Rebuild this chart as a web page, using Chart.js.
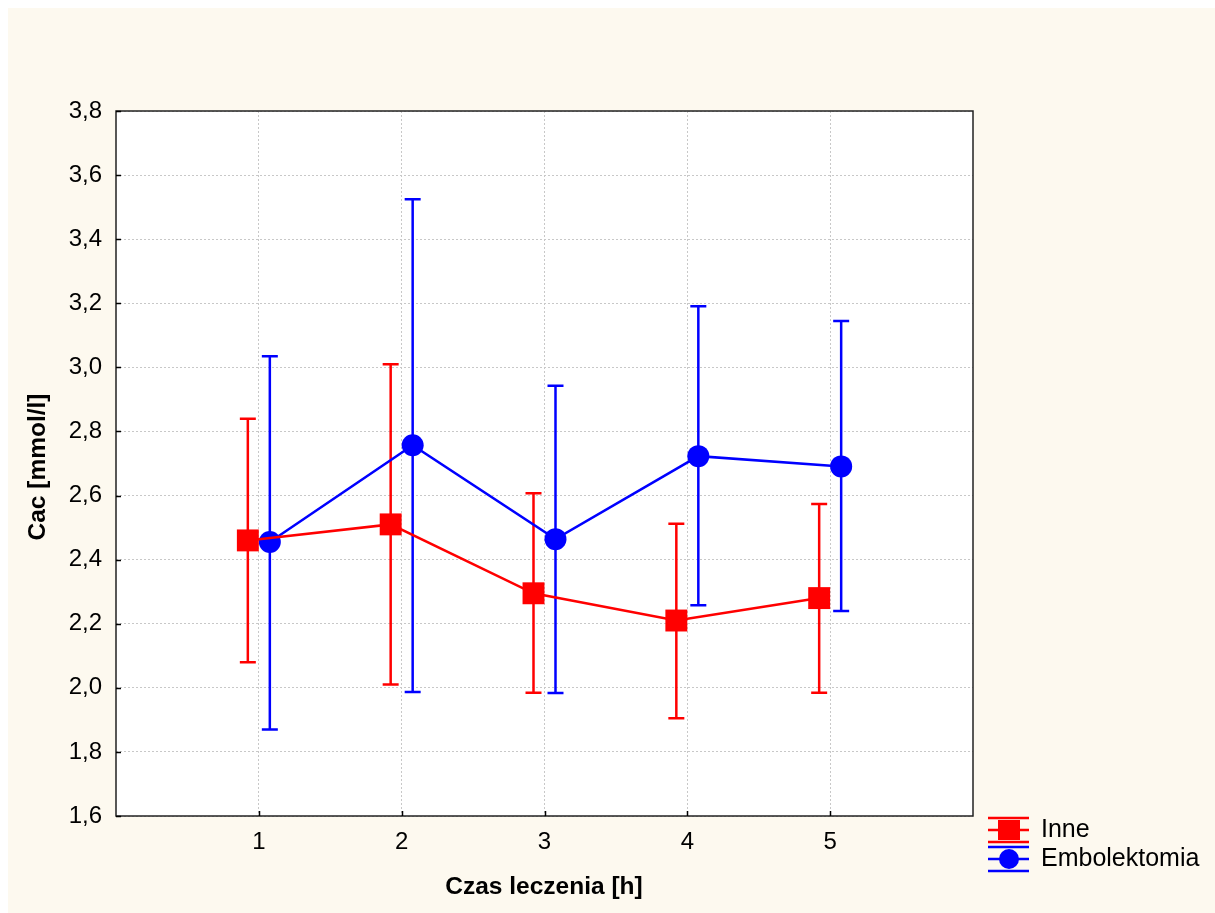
<!DOCTYPE html>
<html>
<head>
<meta charset="utf-8">
<script src="https://cdn.jsdelivr.net/npm/chart.js@4"></script>
<style>
  html, body { margin: 0; padding: 0; background: #ffffff; }
  canvas { display: block; }
</style>
</head>
<body>
<canvas id="chart" width="1215" height="913"></canvas>
<script>
// time points (h)
const hours = [1, 2, 3, 4, 5];
const yTicks = [1.6, 1.8, 2.0, 2.2, 2.4, 2.6, 2.8, 3.0, 3.2, 3.4, 3.6, 3.8];

// Inne
const inneMean = [2.46, 2.51, 2.295, 2.21, 2.28];
const inneLow  = [2.08, 2.01, 1.985, 1.905, 1.985];
const inneHigh = [2.84, 3.01, 2.607, 2.512, 2.574];

// Embolektomia
const embMean = [2.455, 2.757, 2.464, 2.723, 2.691];
const embLow  = [1.87, 1.987, 1.984, 2.258, 2.24];
const embHigh = [3.035, 3.525, 2.943, 3.191, 3.145];

const seriesNames = ['Inne', 'Embolektomia'];
const offset = 0.077; // the two groups are shifted a bit sideways

const RED = '#ff0000';
const BLUE = '#0000ff';
const FONT = '"Liberation Sans", Arial, sans-serif';

const pts = (means, dx) => hours.map((h, i) => ({ x: h + dx, y: means[i] }));

const errorBars = {
    id: 'errorBars',
    beforeDatasetsDraw(chart) {
        const { ctx, scales: { x, y } } = chart;
        const groups = [
            { low: inneLow, high: inneHigh, dx: -offset, color: RED },
            { low: embLow, high: embHigh, dx: offset, color: BLUE }
        ];
        ctx.save();
        ctx.lineWidth = 2.5;
        groups.forEach(g => {
            ctx.strokeStyle = g.color;
            hours.forEach((h, i) => {
                const px = x.getPixelForValue(h + g.dx);
                const yl = y.getPixelForValue(g.low[i]);
                const yh = y.getPixelForValue(g.high[i]);
                ctx.beginPath();
                ctx.moveTo(px, yl); ctx.lineTo(px, yh);
                ctx.moveTo(px - 8, yl); ctx.lineTo(px + 8, yl);
                ctx.moveTo(px - 8, yh); ctx.lineTo(px + 8, yh);
                ctx.stroke();
            });
        });
        ctx.restore();
    }
};

const decor = {
    id: 'decor',
    beforeDraw(chart) {
        const { ctx, width, height, chartArea: a } = chart;
        ctx.save();
        ctx.fillStyle = '#ffffff';
        ctx.fillRect(0, 0, width, height);
        ctx.fillStyle = '#fdf9ef';
        ctx.fillRect(8, 8, width - 8, height - 8);
        ctx.fillStyle = '#ffffff';
        ctx.fillRect(a.left, a.top, a.right - a.left, a.bottom - a.top);
        ctx.restore();
    },
    afterDraw(chart) {
        const { ctx, chartArea: a, scales: { x, y } } = chart;
        ctx.save();
        // frame
        ctx.strokeStyle = '#222222';
        ctx.lineWidth = 1.5;
        ctx.strokeRect(a.left, a.top, a.right - a.left, a.bottom - a.top);
        // inward tick marks
        ctx.strokeStyle = '#000000';
        ctx.lineWidth = 1.5;
        ctx.beginPath();
        yTicks.forEach(v => {
            const py = Math.round(y.getPixelForValue(v)) + 0.5;
            ctx.moveTo(a.left, py); ctx.lineTo(a.left + 5, py);
        });
        hours.forEach(h => {
            const px = Math.round(x.getPixelForValue(h)) + 0.5;
            ctx.moveTo(px, a.bottom); ctx.lineTo(px, a.bottom - 5);
        });
        ctx.stroke();

        // axis titles
        ctx.fillStyle = '#000000';
        ctx.font = 'bold 24.5px ' + FONT;
        ctx.textAlign = 'center';
        ctx.textBaseline = 'middle';
        ctx.fillText('Czas leczenia [h]', 544, 887);
        ctx.save();
        ctx.translate(38, 467);
        ctx.rotate(-Math.PI / 2);
        ctx.fillText('Cac [mmol/l]', 0, 0);
        ctx.restore();

        // legend
        const items = [
            { name: seriesNames[0], color: RED, shape: 'rect', cy: 830 },
            { name: seriesNames[1], color: BLUE, shape: 'circle', cy: 859 }
        ];
        items.forEach(it => {
            ctx.strokeStyle = it.color;
            ctx.fillStyle = it.color;
            ctx.lineWidth = 2.5;
            ctx.beginPath();
            [-12, 0, 12].forEach(d => {
                ctx.moveTo(988, it.cy + d); ctx.lineTo(1029, it.cy + d);
            });
            ctx.stroke();
            if (it.shape === 'rect') {
                ctx.fillRect(998, it.cy - 10, 22, 20);
            } else {
                ctx.beginPath();
                ctx.arc(1009, it.cy, 10, 0, Math.PI * 2);
                ctx.fill();
            }
            ctx.fillStyle = '#000000';
            ctx.font = '25px ' + FONT;
            ctx.textAlign = 'left';
            ctx.fillText(it.name, 1041, it.cy);
        });
        ctx.restore();
    }
};

new Chart(document.getElementById('chart'), {
    type: 'line',
    data: {
        datasets: [
            {
                label: seriesNames[0],
                data: pts(inneMean, -offset),
                borderColor: RED,
                backgroundColor: RED,
                borderWidth: 2.5,
                pointStyle: 'rect',
                pointRadius: 15.5,
                pointBorderWidth: 0,
                pointHoverRadius: 15.5
            },
            {
                label: seriesNames[1],
                data: pts(embMean, offset),
                borderColor: BLUE,
                backgroundColor: BLUE,
                borderWidth: 2.5,
                pointStyle: 'circle',
                pointRadius: 11,
                pointBorderWidth: 0,
                pointHoverRadius: 11
            }
        ]
    },
    options: {
        responsive: false,
        animation: false,
        events: [],
        layout: { padding: { top: 111, right: 242, left: 0, bottom: 0 } },
        plugins: { legend: { display: false }, tooltip: { enabled: false } },
        scales: {
            x: {
                type: 'linear',
                min: 0,
                max: 6,
                afterFit(s) { s.height = 97; },
                ticks: {
                    stepSize: 1,
                    padding: 12,
                    color: '#000000',
                    font: { family: FONT, size: 24 },
                    callback: v => (hours.includes(v) ? String(v) : '')
                },
                grid: {
                    drawTicks: false,
                    color: c => (c.tick && hours.includes(c.tick.value) ? '#c8c8c8' : 'rgba(0,0,0,0)'),
                    lineWidth: 1
                },
                border: { display: false, dash: [2, 2] }
            },
            y: {
                min: 1.6,
                max: 3.8,
                afterFit(s) { s.width = 116; },
                afterBuildTicks(s) { s.ticks = yTicks.map(v => ({ value: v })); },
                ticks: {
                    padding: 14,
                    color: '#000000',
                    font: { family: FONT, size: 24 },
                    callback: v => v.toFixed(1).replace('.', ',')
                },
                grid: {
                    drawTicks: false,
                    color: '#c8c8c8',
                    lineWidth: 1
                },
                border: { display: false, dash: [2, 2] }
            }
        }
    },
    plugins: [decor, errorBars]
});
</script>
</body>
</html>
